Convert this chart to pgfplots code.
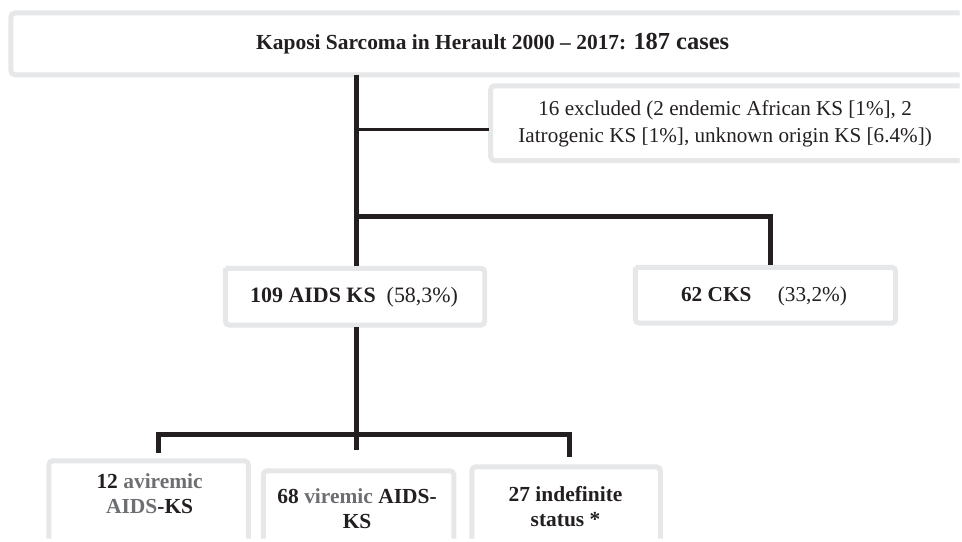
\documentclass[border=0pt]{standalone}
\usepackage{pgfplots}
\pgfplotsset{compat=1.18}
\usepackage{fontspec}
\setmainfont{Liberation Serif}
\definecolor{boxc}{HTML}{E6E7E8}
\definecolor{linec}{HTML}{231F20}
\definecolor{grayt}{HTML}{6D6E71}
\begin{document}
\begin{tikzpicture}
\begin{axis}[width=962bp, height=537bp, scale only axis,
  xmin=0, xmax=962, ymin=0, ymax=537, y dir=reverse,
  hide axis, clip=false]
\path (axis cs:0,0) rectangle (axis cs:962,537);
% boxes (open where they run off the picture)
\addplot[boxc, line width=5bp, rounded corners=4bp, mark=none] coordinates {(962,13) (11,13) (11,75) (962,75)};
\addplot[boxc, line width=5bp, rounded corners=4bp, mark=none] coordinates {(962,86) (492,86) (492,161) (962,161)};
\addplot[boxc, line width=5bp, rounded corners=4bp, mark=none] coordinates {(226,269) (486,269) (486,326) (226,326) (226,269)};
\addplot[boxc, line width=5bp, rounded corners=4bp, mark=none] coordinates {(637,268) (898,268) (898,324) (637,324) (637,268)};
\addplot[boxc, line width=5bp, rounded corners=4bp, mark=none] coordinates {(49,540) (49,462) (249,462) (249,540)};
\addplot[boxc, line width=5bp, rounded corners=4bp, mark=none] coordinates {(264,540) (264,472) (455,472) (455,540)};
\addplot[boxc, line width=5bp, rounded corners=4bp, mark=none] coordinates {(473,540) (473,468) (662,468) (662,540)};
% connectors
\addplot[linec, line width=5bp, mark=none] coordinates {(357,75) (357,267)};
\addplot[linec, line width=2.5bp, mark=none] coordinates {(357,130) (490,130)};
\addplot[linec, line width=5bp, mark=none, line join=miter] coordinates {(357,217) (772,217) (772,266)};
\addplot[linec, line width=5bp, mark=none] coordinates {(357,328) (357,451)};
\addplot[linec, line width=5bp, mark=none, line join=miter] coordinates {(159,454) (159,436) (571,436) (571,458)};
% texts
\node[text=linec, font=\fontsize{21.5bp}{26bp}\selectfont\bfseries] at (axis cs:494,44) {Kaposi Sarcoma in Herault 2000 -- 2017: {\fontsize{24.5bp}{26bp}\selectfont 187 cases}};
\node[text=linec, align=center, font=\fontsize{21.2bp}{27bp}\selectfont] at (axis cs:727,124) {16 excluded (2 endemic African KS [1\%], 2\\Iatrogenic KS [1\%], unknown origin KS [6.4\%])};
\node[text=linec, font=\fontsize{22bp}{26bp}\selectfont] at (axis cs:355,298) {\textbf{109 AIDS KS}\ \ (58,3\%)};
\node[text=linec, font=\fontsize{21.3bp}{26bp}\selectfont] at (axis cs:766,297) {\textbf{62 CKS}\quad\ (33,2\%)};
\node[text=linec, align=center, font=\fontsize{21.5bp}{25bp}\selectfont\bfseries] at (axis cs:150,495) {12 \textcolor{grayt}{aviremic}\\\textcolor{grayt}{AIDS}-KS};
\node[text=linec, align=center, font=\fontsize{21.5bp}{25bp}\selectfont\bfseries] at (axis cs:358,510) {68 \textcolor{grayt}{viremic} AIDS-\\KS};
\node[text=linec, align=center, font=\fontsize{21.5bp}{25bp}\selectfont\bfseries] at (axis cs:567,508) {27 indefinite\\status *};
\end{axis}
\end{tikzpicture}
\end{document}
